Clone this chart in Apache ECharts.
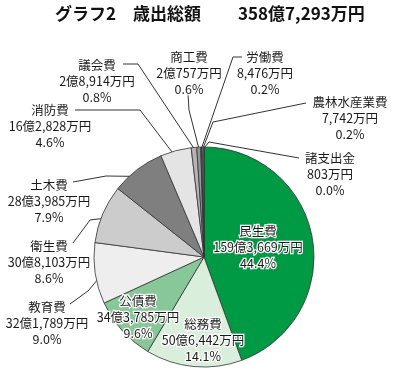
<!DOCTYPE html>
<html><head><meta charset="utf-8">
<script src="https://cdn.jsdelivr.net/npm/echarts@6/dist/echarts.min.js"></script>
<style>html,body{margin:0;padding:0;background:#fff;}#c{width:399px;height:378px;}</style>
</head><body><div id="c"></div>
<script>
// ---- data (values in 万円) ----
const categories = ['民生費','総務費','公債費','教育費','衛生費','土木費','消防費','議会費','商工費','労働費','農林水産業費','諸支出金'];
const values = [1593669, 506442, 343785, 321789, 308103, 283985, 162828, 28914, 20757, 8476, 7742, 803];
const percentLabels = ['44.4%','14.1%','9.6%','9.0%','8.6%','7.9%','4.6%','0.8%','0.6%','0.2%','0.2%','0.0%'];
const titleMain = 'グラフ2　歳出総額';
const titleTotal = '358億7,293万円';

// ---- styles / layout ----
const colors = ['#009944','#d9eedb','#88c898','#eeeeee','#cccccc','#7f7f7f','#e4e4e4','#b4b4b4','#969696','#4a4a4a','#e8e8e8','#ffffff'];
const innerLabels = [true,true,true,false,false,false,false,false,false,false,false,false];
// label block centre [x,y]; leader anchor at label, elbow; depth of line end as fraction of radius
const labelPos = [[258,247],[203,340],[138,317],[47,323],[49,262],[49,201],[50,126],[97,81],[189,73],[265,73],[350,118],[330,174]];
const lineAnchor = [null,null,null,[70,304],[73,243],[73,182],[75,110],[123,64],[188,94],[242,57],[306,103],[299,158]];
const lineElbow = [null,null,null,[88,291],[90,220],[106,176],[140,110],[138,64],[189,110],[233,57],[213,122],[209,142]];
const lineDepth = [0,0,0,0.92,0.92,0.92,0.91,0.99,0.99,0.99,0.99,0.99];
const CX = 204, CY = 257, R = 110;

function fmtYen(v){
  const oku = Math.floor(v/10000), man = v % 10000;
  const manStr = man.toLocaleString('en-US');
  return (oku > 0 ? oku + '億' : '') + manStr + '万円';
}
const total = values.reduce((a,b)=>a+b,0);
const midFrac = [];
{ let acc = 0; values.forEach(v => { midFrac.push((acc + v/2)/total); acc += v; }); }

const chart = echarts.init(document.getElementById('c'), null, {renderer:'canvas'});
const font = '"Noto Sans CJK JP", "Noto Sans", sans-serif';
chart.setOption({
  animation: false,
  title: [
    {text: titleMain, left: 55, top: 5, padding: 0, textStyle:{fontFamily: font, fontSize: 17, fontWeight: 'bold', color:'#111'}},
    {text: titleTotal, left: 238, top: 5, padding: 0, textStyle:{fontFamily: font, fontSize: 17, fontWeight: 'bold', color:'#111'}}
  ],
  series: [{
    type: 'pie',
    center: [CX, CY],
    radius: [0, R],
    startAngle: 90,
    clockwise: true,
    avoidLabelOverlap: false,
    minAngle: 0,
    itemStyle: {borderColor: '#333', borderWidth: 0.8},
    label: {
      show: true, position: 'outside',
      fontFamily: font, fontSize: 12.5, lineHeight: 16, color: '#1a1a1a',
      textBorderColor: '#fff', textBorderWidth: 2.5, align: 'center',
      overflow: 'none',
      formatter: p => p.name + '\n' + fmtYen(p.value) + '\n' + percentLabels[p.dataIndex]
    },
    labelLine: {show: true, length: 5, length2: 5, lineStyle: {color: '#333', width: 1}},
    emphasis: {disabled: true},
    data: categories.map((n,i)=>({
      name: n, value: values[i],
      itemStyle: {color: colors[i]},
      labelLine: innerLabels[i] ? {show:false} : undefined
    })),
    labelLayout: function(params){
      const i = params.dataIndex;
      const out = {x: labelPos[i][0], y: labelPos[i][1], align: 'center', verticalAlign: 'middle'};
      if (!innerLabels[i]) {
        const ang = midFrac[i]*2*Math.PI;
        const r = R*lineDepth[i];
        const end = [CX + r*Math.sin(ang), CY - r*Math.cos(ang)];
        out.labelLinePoints = [end, lineElbow[i], lineAnchor[i]];
      }
      return out;
    }
  }]
});
</script></body></html>
